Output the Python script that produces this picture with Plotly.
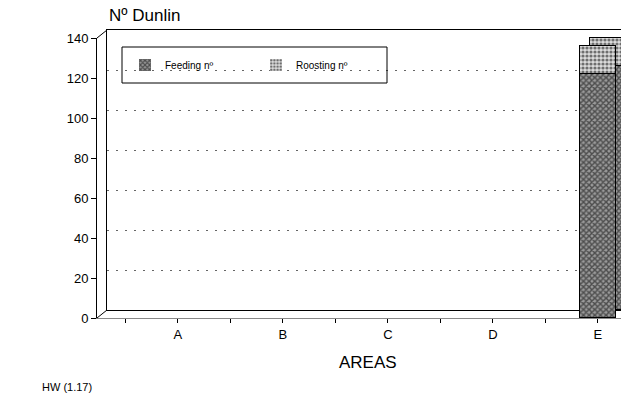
import plotly.graph_objects as go

# ---- data ----
areas = ["A", "B", "C", "D", "E"]
feeding = [0, 0, 0, 0, 122]
roosting = [0, 0, 0, 0, 14]
y_ticks = [0, 20, 40, 60, 80, 100, 120, 140]

W, H = 621, 393
ML, MR, MT, MB = 97, 0, 30, 75
PW, PH = W - ML - MR, H - MT - MB  # 524 x 288
DX, DY = 10, 8  # 3-D depth offset in px
FONT = "Liberation Sans, Arial, sans-serif"

feed_pat = dict(shape="x", fgcolor="black", bgcolor="#9a9a9a", size=4, solidity=0.6)
roost_pat = dict(shape=".", fgcolor="black", bgcolor="#dcdcdc", size=4, solidity=0.5)
bw = 0.34


def outline(vals):
    return dict(color="black", width=[1 if v > 0 else 0 for v in vals])


fig = go.Figure()
# back (depth) copies of the bars -> produce top face / side
fig.add_trace(go.Bar(x=areas, y=feeding, xaxis="x", yaxis="y", width=bw,
                     marker=dict(color="#9a9a9a", pattern=feed_pat, line=outline(feeding)),
                     showlegend=False, hoverinfo="skip"))
fig.add_trace(go.Bar(x=areas, y=roosting, xaxis="x", yaxis="y", width=bw,
                     marker=dict(color="#dcdcdc", pattern=roost_pat, line=outline(roosting)),
                     showlegend=False, hoverinfo="skip"))
# front bars
fig.add_trace(go.Bar(x=areas, y=feeding, xaxis="x2", yaxis="y2", width=bw, name="Feeding nº",
                     marker=dict(color="#9a9a9a", pattern=feed_pat, line=outline(feeding))))
fig.add_trace(go.Bar(x=areas, y=roosting, xaxis="x2", yaxis="y2", width=bw, name="Roosting nº",
                     marker=dict(color="#dcdcdc", pattern=roost_pat, line=outline(roosting))))
# helper (empty) trace for boundary ticks
fig.add_trace(go.Scatter(x=[], y=[], xaxis="x3", yaxis="y2", showlegend=False))

xr_front = [-0.77, 4.22]
scale = (xr_front[1] - xr_front[0]) / PW
xr_back = [xr_front[0], xr_front[0] + (PW - DX) * scale]

fig.update_layout(
    width=W, height=H,
    margin=dict(l=ML, r=MR, t=MT, b=MB),
    paper_bgcolor="white", plot_bgcolor="rgba(0,0,0,0)",
    barmode="stack", bargap=0,
    font=dict(family=FONT, color="black", size=13),
    xaxis=dict(domain=[DX / PW, 1], range=xr_back, type="category", anchor="y",
               showline=True, linecolor="black", linewidth=1, mirror=True,
               showgrid=False, showticklabels=False, ticks=""),
    yaxis=dict(domain=[DY / PH, 1], range=[0, 140], anchor="x",
               showline=True, linecolor="black", linewidth=1, mirror=False,
               showgrid=True, gridcolor="#666", griddash="2px 7px", gridwidth=1,
               tickvals=y_ticks, showticklabels=False, ticks="", zeroline=False),
    xaxis2=dict(domain=[0, 1], range=xr_front, type="category", anchor="y2",
                showline=True, linecolor="#888", linewidth=1,
                ticks="outside", ticklen=4, tickcolor="black",
                showgrid=False, tickfont=dict(size=13)),
    yaxis2=dict(domain=[0, (PH - DY) / PH], range=[0, 140], anchor="x2",
                showline=True, linecolor="black", linewidth=1,
                ticks="outside", ticklen=5, tickcolor="black",
                tickvals=y_ticks, showgrid=False, zeroline=False,
                tickfont=dict(size=13)),
    xaxis3=dict(overlaying="x2", range=xr_front, anchor="y2",
                tickvals=[i - 0.5 for i in range(len(areas) + 1)],
                ticks="outside", ticklen=4, tickcolor="black",
                showticklabels=False, showline=False, showgrid=False, zeroline=False),
    legend=dict(orientation="h", x=(125 - ML) / PW, xanchor="left",
                y=(MT + PH - 65) / PH, yanchor="middle",
                bgcolor="rgba(0,0,0,0)", borderwidth=0,
                font=dict(size=10), entrywidth=86, traceorder="normal"),
    shapes=[
        dict(type="line", xref="paper", yref="paper", x0=0, y0=(PH - DY) / PH, x1=DX / PW, y1=1,
             line=dict(color="black", width=1)),
        dict(type="line", xref="paper", yref="paper", x0=0, y0=0, x1=DX / PW, y1=DY / PH,
             line=dict(color="black", width=1)),
        dict(type="rect", xref="paper", yref="paper",
             x0=(122 - ML) / PW, x1=(387 - ML) / PW,
             y0=(MT + PH - 83) / PH, y1=(MT + PH - 47) / PH,
             line=dict(color="black", width=1), fillcolor="rgba(0,0,0,0)"),
    ],
    annotations=[
        dict(text="Nº Dunlin", xref="paper", yref="paper",
             x=(107 - ML) / PW, y=(MT + PH - 15) / PH, xanchor="left", yanchor="middle",
             showarrow=False, font=dict(size=17)),
        dict(text="AREAS", xref="paper", yref="paper",
             x=(368 - ML) / PW, y=(MT + PH - 362) / PH, xanchor="center", yanchor="middle",
             showarrow=False, font=dict(size=17)),
        dict(text="HW (1.17)", xref="paper", yref="paper",
             x=(40 - ML) / PW, y=(MT + PH - 379) / PH, xanchor="left", yanchor="top",
             showarrow=False, font=dict(size=11)),
    ],
)

fig.write_html("out.html")
